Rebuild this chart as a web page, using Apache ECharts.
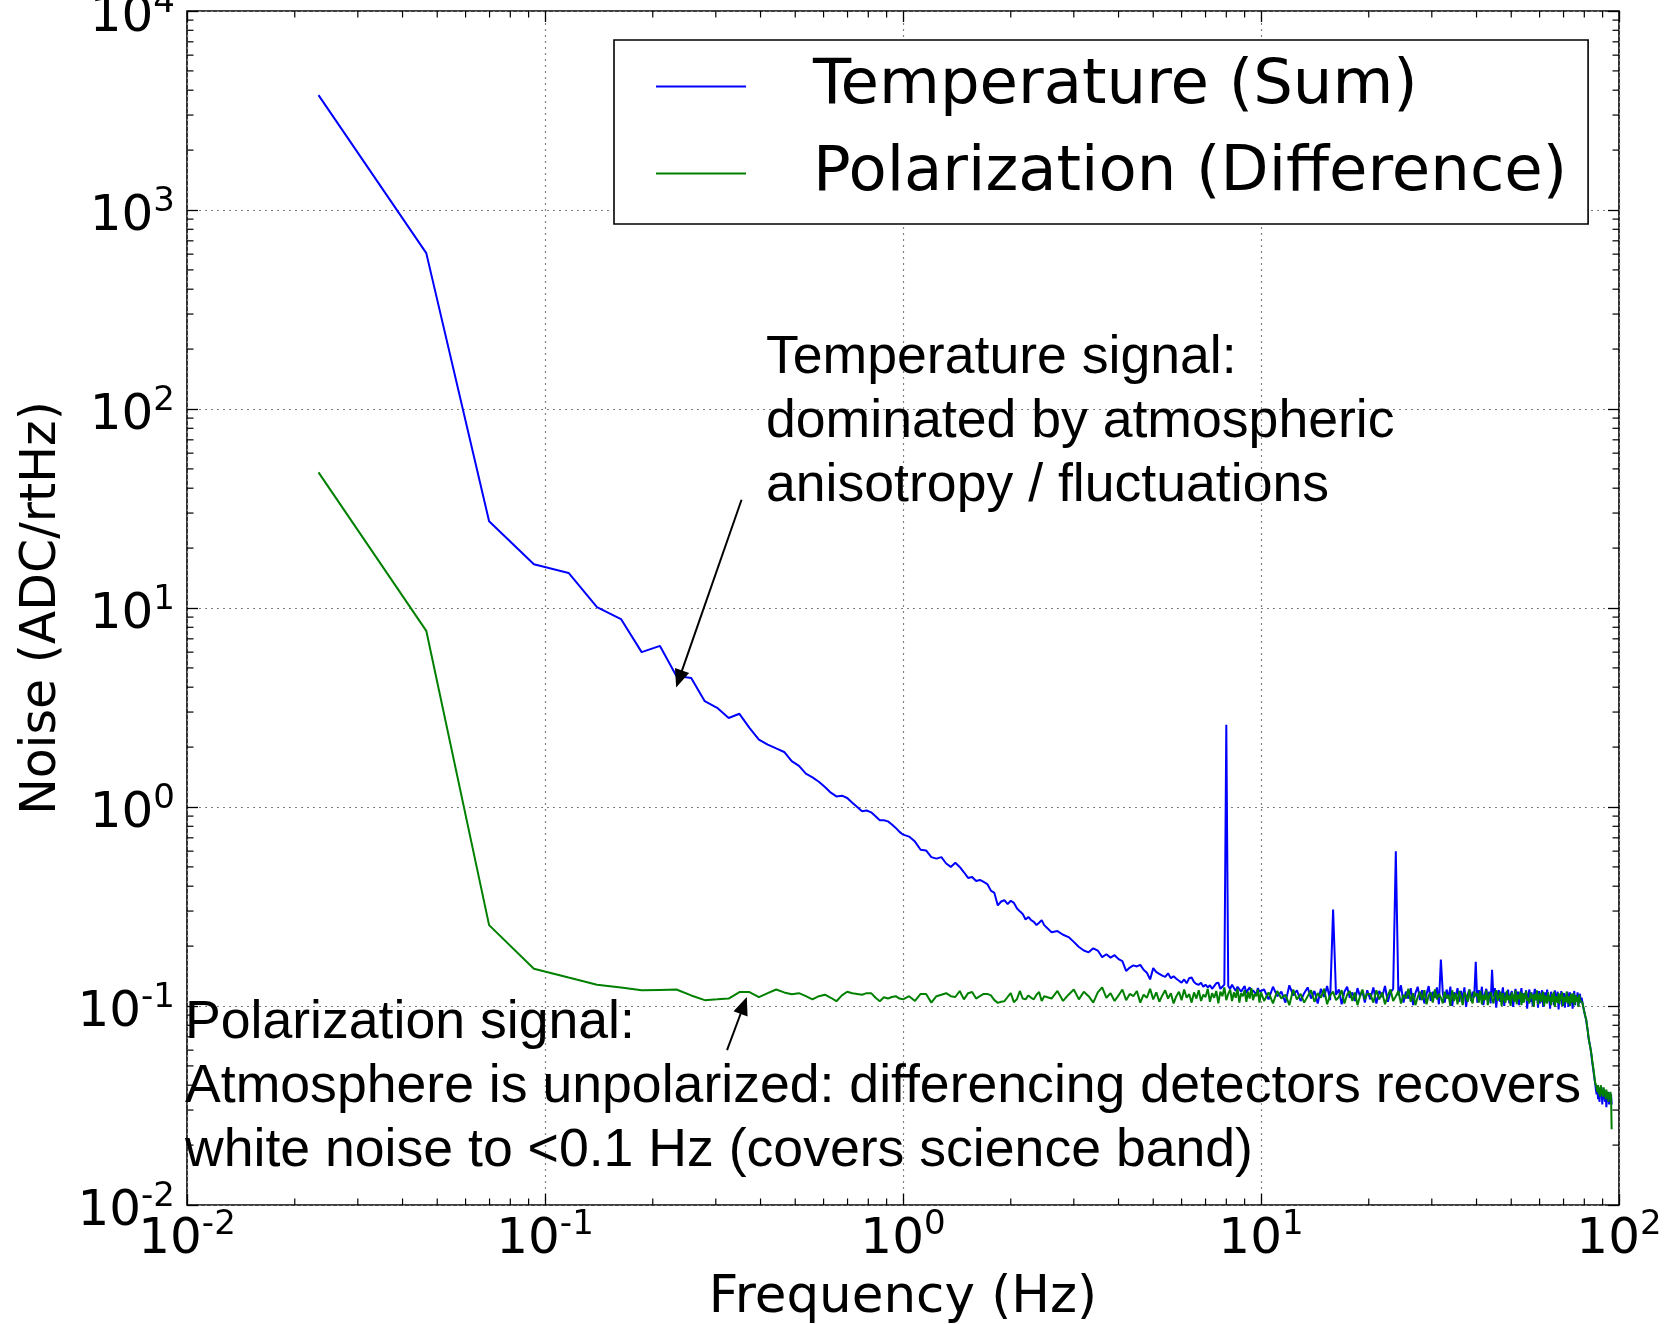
<!DOCTYPE html>
<html><head><meta charset="utf-8">
<script src="https://cdn.jsdelivr.net/npm/echarts@6/dist/echarts.min.js"></script>
<style>html,body{margin:0;padding:0;background:#fff}#c{width:1665px;height:1324px}</style>
</head><body><div id="c"></div>
<script>
// ---------- data ----------
const freqLow = [0.0233,0.0466,0.0698,0.0931,0.1164,0.1397,0.163,0.1862,0.2095,0.2328,0.2561,0.2794,0.3026,0.3259,0.3492,0.3725,0.3958,0.419,0.4423,0.4656,0.4889,0.5122,0.5354,0.5587,0.582,0.6053,0.6286,0.6518,0.6751,0.6984,0.7217,0.745,0.7682,0.7915,0.8148,0.8381,0.8614,0.8846,0.9079,0.9312,0.9545,0.9778,1.001];
const tempLow = [3780,607,27.3,16.6,15.0,10.1,8.8,6.0,6.45,4.55,4.45,3.40,3.15,2.80,2.94,2.5,2.18,2.06,1.97,1.89,1.70,1.61,1.47,1.41,1.34,1.26,1.18,1.13,1.14,1.11,1.05,1.0,0.952,0.96,0.94,0.898,0.857,0.857,0.847,0.817,0.785,0.75,0.726];
const polLow = [48.0,7.68,0.255,0.154,0.139,0.128,0.124,0.120,0.1205,0.121,0.113,0.107,0.108,0.109,0.1175,0.1175,0.1107,0.116,0.121,0.117,0.1145,0.116,0.112,0.108,0.112,0.114,0.11,0.1057,0.113,0.118,0.116,0.115,0.114,0.116,0.116,0.11,0.1057,0.1107,0.109,0.111,0.112,0.109,0.108];

const freqMid = [1.04,1.08,1.12,1.16,1.2,1.24,1.28,1.32,1.36,1.4,1.44,1.48,1.52,1.56,1.6,1.64,1.68,1.72,1.76,1.8,1.84,1.88,1.92,1.96,2.0,2.04,2.08,2.12,2.16,2.2,2.24,2.28,2.32,2.36,2.4,2.44,2.48];
const tempMid = [0.71,0.67,0.61,0.605,0.56,0.55,0.56,0.52,0.50,0.525,0.50,0.47,0.44,0.445,0.425,0.43,0.42,0.41,0.38,0.37,0.32,0.335,0.34,0.325,0.338,0.33,0.31,0.299,0.29,0.272,0.28,0.27,0.265,0.255,0.262,0.27,0.255];
const polMid = [0.112,0.106,0.115,0.115,0.104,0.112,0.114,0.116,0.112,0.111,0.119,0.108,0.116,0.1175,0.109,0.112,0.115,0.115,0.113,0.107,0.1037,0.105,0.1057,0.111,0.116,0.1045,0.108,0.119,0.109,0.108,0.113,0.11,0.108,0.114,0.1175,0.106,0.112];

const freqKnee = [2.6,2.7,2.8,2.9,3.0,3.1,3.2,3.3,3.4,3.5,3.6,3.7,3.8,3.9,4.0,4.1,4.2,4.3,4.4,4.5,4.6,4.7,4.8,4.9,5.0,5.1,5.2,5.3,5.4,5.5,5.6,5.7,5.8,5.9,6.0,6.1,6.2,6.3,6.4,6.5,6.6,6.7,6.8,6.9,7.0,7.1,7.2,7.3,7.4,7.5,7.6,7.7,7.8,7.9,8.0,8.1,8.2,8.3,8.4,8.5,8.6,8.7,8.8,8.9,9.0,9.1,9.2,9.3,9.4,9.5,9.6,9.7,9.8,9.9,10.0];
const tempKnee = [0.235,0.238,0.228,0.222,0.21,0.198,0.19,0.186,0.195,0.19,
  0.176,0.182,0.175,0.18,0.172,0.168,0.15,0.156,0.16,0.158,
  0.161,0.152,0.147,0.136,0.155,0.148,0.145,0.142,0.14,0.146,
  0.138,0.141,0.137,0.134,0.131,0.136,0.13,0.138,0.139,0.132,
  0.129,0.128,0.131,0.125,0.128,0.124,0.127,0.122,0.126,0.13,
  0.131,0.122,0.125,0.128,2.59,0.126,0.122,0.128,0.126,0.119,
  0.125,0.124,0.118,0.122,0.126,0.116,0.121,0.124,0.117,0.12,
  0.119,0.114,0.123,0.118,0.116];
const polKnee = [0.109,0.119,0.106,0.114,0.121,0.108,0.118,0.112,0.104,0.117,
  0.124,0.11,0.116,0.106,0.113,0.121,0.107,0.115,0.112,0.119,
  0.104,0.114,0.11,0.122,0.108,0.117,0.105,0.113,0.12,0.109,
  0.116,0.103,0.112,0.118,0.107,0.121,0.11,0.115,0.104,0.117,
  0.109,0.12,0.106,0.114,0.111,0.122,0.105,0.116,0.11,0.119,
  0.103,0.118,0.112,0.124,0.107,0.115,0.121,0.106,0.117,0.11,
  0.122,0.104,0.116,0.112,0.12,0.105,0.118,0.109,0.123,0.107,
  0.115,0.112,0.121,0.104,0.117];

const freqBandA = [10.2,10.5,10.8,11.1,11.4,11.7,12.0,12.3,12.6,12.9,13.2,13.5,13.8,14.1,14.4,14.7,15.0,15.3,15.6,15.9,16.2,16.5,16.8,17.1,17.4,17.7,18.0,18.3,18.6,18.9,19.2,19.5,19.8];
const tempBandA = [0.121,0.108,0.125,0.112,0.118,0.104,0.127,0.113,0.12,0.106,0.116,0.124,0.109,0.119,0.103,0.122,0.111,0.126,0.107,0.305,0.114,0.121,0.102,0.118,0.125,0.11,0.117,0.106,0.123,0.112,0.119,0.104,0.12];
const polBandA = [0.106,0.117,0.103,0.119,0.109,0.114,0.101,0.121,0.108,0.115,0.104,0.112,0.12,0.105,0.116,0.11,0.122,0.102,0.113,0.118,0.107,0.111,0.12,0.103,0.114,0.119,0.106,0.117,0.101,0.112,0.121,0.108,0.115];

const freqBandB = [20.2,20.6,21.0,21.4,21.8,22.2,22.6,23.0,23.4,23.8,
  24.2,24.6,25.0,25.4,25.8,26.2,26.6,27.0,27.4,27.8,
  28.2,28.6,29.0,29.4,29.8,30.2,30.6,31.0,31.4,31.8,
  32.2,32.6,33.0,33.4,33.8,34.2,34.6,35.0,35.4,35.8,
  36.2,36.6,37.0,37.4,37.8,38.2,38.6,39.0,39.4,39.8,
  40.2,40.6,41.0,41.4,41.8,42.2,42.6,43.0,43.4,43.8,
  44.2,44.6,45.0,45.4,45.8,46.2,46.6,47.0,47.4,47.8,
  48.2,48.6,49.0,49.4,49.8,50.2,50.6,51.0,51.4,51.8,
  52.2,52.6,53.0,53.4,53.8,54.2,54.6,55.0,55.4,55.8,
  56.2,56.6,57.0,57.4,57.8,58.2,58.6,59.0,59.4,59.8,
  60.2,60.6,61.0,61.4,61.8,62.2,62.6,63.0,63.4,63.8,
  64.2,64.6,65.0,65.4,65.8,66.2,66.6,67.0,67.4,67.8,
  68.2,68.6,69.0,69.4,69.8,70.2,70.6,71.0,71.4,71.8,
  72.2,72.6,73.0,73.4,73.8,74.2,74.6,75.0,75.4,75.8,
  76.2,76.6,77.0,77.4,77.8,78.2];
const tempBandB = [0.108,0.124,0.103,0.119,0.111,0.126,0.105,0.117,0.122,0.60,
  0.113,0.127,0.104,0.118,0.109,0.123,0.101,0.116,0.125,0.107,
  0.12,0.103,0.115,0.126,0.106,0.118,0.11,0.124,0.102,0.171,
  0.116,0.104,0.121,0.109,0.125,0.1,0.117,0.112,0.123,0.105,
  0.119,0.108,0.124,0.099,0.114,0.121,0.106,0.118,0.11,0.167,
  0.104,0.12,0.109,0.125,0.101,0.115,0.122,0.107,0.118,0.103,
  0.152,0.111,0.123,0.098,0.116,0.12,0.105,0.113,0.124,0.1,
  0.117,0.108,0.121,0.103,0.114,0.119,0.099,0.112,0.122,0.106,
  0.118,0.101,0.113,0.123,0.104,0.116,0.109,0.12,0.097,0.114,
  0.121,0.105,0.117,0.1,0.112,0.122,0.107,0.115,0.098,0.119,
  0.103,0.114,0.12,0.099,0.111,0.117,0.104,0.121,0.106,0.113,
  0.097,0.118,0.108,0.115,0.101,0.12,0.105,0.112,0.118,0.096,
  0.113,0.106,0.119,0.1,0.111,0.116,0.098,0.114,0.109,0.118,
  0.099,0.112,0.117,0.103,0.115,0.097,0.11,0.119,0.101,0.113,
  0.106,0.117,0.1,0.112,0.115,0.104];
const polBandB = [0.115,0.104,0.12,0.108,0.117,0.102,0.113,0.121,0.106,0.112,
  0.119,0.103,0.114,0.109,0.122,0.105,0.116,0.101,0.111,0.118,
  0.107,0.12,0.102,0.113,0.117,0.104,0.121,0.108,0.115,0.11,
  0.103,0.118,0.109,0.114,0.1,0.12,0.106,0.116,0.102,0.119,
  0.111,0.101,0.117,0.113,0.105,0.121,0.108,0.103,0.118,0.112,
  0.116,0.104,0.119,0.102,0.114,0.107,0.12,0.101,0.113,0.117,
  0.109,0.103,0.115,0.12,0.106,0.111,0.118,0.1,0.116,0.108,
  0.104,0.119,0.107,0.113,0.1,0.117,0.111,0.105,0.12,0.102,
  0.114,0.108,0.118,0.101,0.116,0.104,0.112,0.119,0.106,0.11,
  0.103,0.117,0.109,0.114,0.099,0.115,0.107,0.12,0.102,0.111,
  0.116,0.105,0.112,0.118,0.1,0.113,0.108,0.103,0.117,0.106,
  0.111,0.101,0.115,0.105,0.118,0.099,0.112,0.107,0.104,0.116,
  0.102,0.114,0.108,0.117,0.1,0.111,0.113,0.105,0.118,0.103,
  0.112,0.107,0.1,0.115,0.104,0.11,0.116,0.101,0.108,0.113,
  0.105,0.111,0.099,0.114,0.107,0.109];

const freqRoll = [78.6,79.0,79.4,79.8,80.2,80.6,81.0,81.4,81.8,82.2,82.6,83.0,83.4,83.8,84.2,84.6,85.0,85.4,85.8,86.2,86.6,87.0,87.4,87.8,88.2,88.6,89.0,89.4,89.8,90.2,90.6,91.0,91.4,91.8,92.2,92.6,93.0,93.4,93.8,94.2,94.6,95.0,95.4];
const tempRoll = [0.110,0.105,0.099,0.096,0.091,0.088,0.085,0.079,0.075,0.069,
  0.066,0.063,0.06,0.056,0.052,0.049,0.046,0.043,0.041,0.038,
  0.036,0.04,0.034,0.038,0.033,0.037,0.035,0.039,0.032,0.036,
  0.034,0.038,0.033,0.036,0.031,0.035,0.033,0.037,0.032,0.035,
  0.033,0.036,0.032];
const polRoll = [0.108,0.104,0.1,0.095,0.092,0.088,0.0855,0.08,0.075,0.07,
  0.066,0.063,0.06,0.057,0.053,0.05,0.047,0.044,0.041,0.04,
  0.039,0.037,0.04,0.036,0.039,0.035,0.04,0.036,0.038,0.035,
  0.039,0.036,0.037,0.034,0.038,0.035,0.037,0.033,0.036,0.034,
  0.037,0.035,0.024];

const xTickValues = [0.01, 0.1, 1, 10, 100];
const xTickExps = ['-2', '-1', '0', '1', '2'];
const yTickValues = [0.01, 0.1, 1, 10, 100, 1000, 10000];
const yTickExps = ['-2', '-1', '0', '1', '2', '3', '4'];
const xMinorTicks = [0.02,0.03,0.04,0.05,0.06,0.07,0.08,0.09,0.2,0.3,0.4,0.5,0.6,0.7,0.8,0.9,2,3,4,5,6,7,8,9,20,30,40,50,60,70,80,90];
const yMinorTicks = [0.02,0.03,0.04,0.05,0.06,0.07,0.08,0.09,0.2,0.3,0.4,0.5,0.6,0.7,0.8,0.9,2,3,4,5,6,7,8,9,20,30,40,50,60,70,80,90,200,300,400,500,600,700,800,900,2000,3000,4000,5000,6000,7000,8000,9000];

const seriesNames = ['Temperature (Sum)', 'Polarization (Difference)'];
const tempNote = ['Temperature signal:', 'dominated by atmospheric', 'anisotropy / fluctuations'];
const polNote = ['Polarization signal:', 'Atmosphere is unpolarized: differencing detectors recovers', 'white noise to <0.1 Hz (covers science band)'];
// arrow [tail, tip] in data coordinates
const tempArrow = [[0.354, 35.0], [0.2369, 4.40]];
const polArrow = [[0.3225, 0.060], [0.3589, 0.1006]];

// ---------- build ----------
const freqs = [].concat(freqLow, freqMid, freqKnee, freqBandA, freqBandB, freqRoll);
const tempVals = [].concat(tempLow, tempMid, tempKnee, tempBandA, tempBandB, tempRoll);
const polVals = [].concat(polLow, polMid, polKnee, polBandA, polBandB, polRoll);
const tempData = freqs.map((f, i) => [f, tempVals[i]]);
const polData = freqs.map((f, i) => [f, polVals[i]]);

function fmt(vals, exps) {
  return v => {
    const i = vals.findIndex(t => Math.abs(Math.log10(t) - Math.log10(v)) < 1e-6);
    return i < 0 ? '' : '{b|10}{e|' + exps[i] + '}';
  };
}
const rich = {
  b: { fontSize: 50, fontFamily: 'DejaVu Sans', color: '#000', lineHeight: 50, padding: [14, 0, 0, 0] },
  e: { fontSize: 34, fontFamily: 'DejaVu Sans', color: '#000', lineHeight: 34, verticalAlign: 'top' }
};
const splitStyle = { type: [2, 4], color: '#808080', width: 1.2 };
const tickStyle = { color: '#000', width: 1.3 };

const chart = echarts.init(document.getElementById('c'), null, { renderer: 'canvas' });

function minorTickSeries(values, isX) {
  return {
    type: 'custom', coordinateSystem: 'cartesian2d', silent: true, clip: false, z: 6,
    data: values.map(v => isX ? [v, 1] : [1, v]),
    renderItem: (params, api) => {
      const v = api.value(isX ? 0 : 1);
      const a = api.coord(isX ? [v, 0.01] : [0.01, v]);
      const b = api.coord(isX ? [v, 10000] : [100, v]);
      const L = 6.5;
      const st = { stroke: '#000', lineWidth: 1.2 };
      return { type: 'group', children: isX ? [
        { type: 'line', shape: { x1: a[0], y1: a[1], x2: a[0], y2: a[1] - L }, style: st },
        { type: 'line', shape: { x1: b[0], y1: b[1], x2: b[0], y2: b[1] + L }, style: st }
      ] : [
        { type: 'line', shape: { x1: a[0], y1: a[1], x2: a[0] + L, y2: a[1] }, style: st },
        { type: 'line', shape: { x1: b[0], y1: b[1], x2: b[0] - L, y2: b[1] }, style: st }
      ] };
    }
  };
}

const arrowLine = (arr) => ({
  silent: true, animation: false,
  symbol: ['none', 'triangle'], symbolSize: [15, 18],
  lineStyle: { color: '#000', width: 2, type: 'solid' },
  label: { show: false },
  data: [[{ coord: arr[0] }, { coord: arr[1] }]]
});

chart.setOption({
  animation: false,
  backgroundColor: '#fff',
  grid: { left: 187, top: 11, width: 1432, height: 1194, show: true, borderColor: '#000', borderWidth: 1.6,
          backgroundColor: 'transparent', containLabel: false, outerBoundsMode: 'none' },
  xAxis: [{
    type: 'log', logBase: 10, min: 0.01, max: 100, splitNumber: 4,
    axisLine: { show: false },
    axisTick: { show: true, inside: true, length: 11, lineStyle: tickStyle },
    axisLabel: { margin: 3, formatter: fmt(xTickValues, xTickExps), rich: rich },
    splitLine: { show: true, lineStyle: splitStyle },
    name: 'Frequency (Hz)', nameLocation: 'middle', nameGap: 68,
    nameTextStyle: { fontSize: 51.5, fontFamily: 'DejaVu Sans', color: '#000' }
  }, {
    type: 'log', logBase: 10, min: 0.01, max: 100, splitNumber: 4, position: 'top',
    axisLine: { show: false },
    axisTick: { show: true, inside: true, length: 11, lineStyle: tickStyle },
    axisLabel: { show: false }, splitLine: { show: false }
  }],
  yAxis: [{
    type: 'log', logBase: 10, min: 0.01, max: 10000, splitNumber: 6,
    axisLine: { show: false },
    axisTick: { show: true, inside: true, length: 11, lineStyle: tickStyle },
    axisLabel: { margin: 12, formatter: fmt(yTickValues, yTickExps), rich: rich },
    splitLine: { show: true, lineStyle: splitStyle },
    name: 'Noise (ADC/rtHz)', nameLocation: 'middle', nameGap: 120,
    nameTextStyle: { fontSize: 49, fontFamily: 'DejaVu Sans', color: '#000' }
  }, {
    type: 'log', logBase: 10, min: 0.01, max: 10000, splitNumber: 6, position: 'right',
    axisLine: { show: false },
    axisTick: { show: true, inside: true, length: 11, lineStyle: tickStyle },
    axisLabel: { show: false }, splitLine: { show: false }
  }],
  legend: {
    data: seriesNames, orient: 'vertical', left: 614, top: 40,
    icon: 'rect', itemWidth: 90, itemHeight: 2.2, itemGap: 24,
    padding: [15, 21, 19, 42],
    borderColor: '#000', borderWidth: 1.6, backgroundColor: '#fff',
    selectedMode: false,
    textStyle: { fontSize: 62.5, fontFamily: 'DejaVu Sans', color: '#000', lineHeight: 60, padding: [0, 0, 0, 62] }
  },
  series: [
    {
      type: 'line', name: seriesNames[0], data: tempData, symbol: 'none', showSymbol: false,
      lineStyle: { color: '#0000ff', width: 2 }, itemStyle: { color: '#0000ff' }, z: 2, silent: true,
      markLine: arrowLine(tempArrow)
    },
    {
      type: 'line', name: seriesNames[1], data: polData, symbol: 'none', showSymbol: false,
      lineStyle: { color: '#008000', width: 2 }, itemStyle: { color: '#008000' }, z: 3, silent: true,
      markLine: arrowLine(polArrow)
    },
    minorTickSeries(xMinorTicks, true),
    minorTickSeries(yMinorTicks, false)
  ],
  graphic: [
    { type: 'text', left: 766, top: 326, z: 10, silent: true,
      style: { text: tempNote.join('\n'), font: '53.6px "Liberation Sans"', lineHeight: 64, fill: '#000' } },
    { type: 'text', left: 185, top: 991, z: 10, silent: true,
      style: { text: polNote.join('\n'), font: '53.6px "Liberation Sans"', lineHeight: 64, fill: '#000' } }
  ]
});
</script>
</body></html>
